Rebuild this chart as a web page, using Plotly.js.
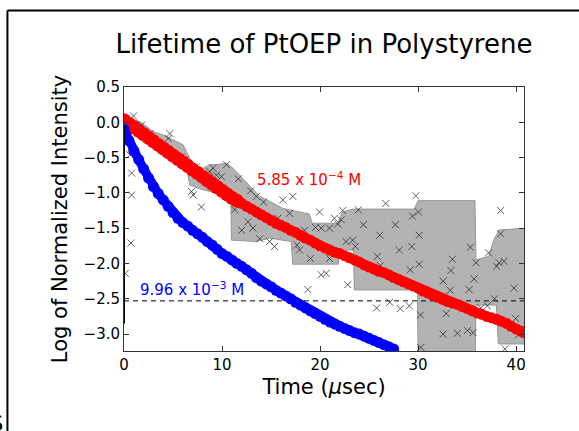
<!DOCTYPE html>
<html>
<head>
<meta charset="utf-8">
<script src="https://cdn.plot.ly/plotly-3.0.1.min.js"></script>
<style>html,body{margin:0;padding:0;background:#fff;}#chart{width:579px;height:431px;}</style>
</head>
<body>
<div id="chart"></div>
<script>
// ---- data ----
const redT = [0,0.5,1,1.5,2,2.5,3,3.5,4,4.5,5,5.5,6,6.5,7,7.5,8,8.5,9,9.5,10,10.5,11,11.5,12,12.5,13,13.5,14,14.5,15,15.5,16,16.5,17,17.5,18,18.5,19,19.5,20,20.5,21,21.5,22,22.5,23,23.5,24,24.5,25,25.5,26,26.5,27,27.5,28,28.5,29,29.5,30,30.5,31,31.5,32,32.5,33,33.5,34,34.5,35,35.5,36,36.5,37,37.5,38,38.5,39,39.5,40,40.5,41];
const redY = [0.03,-0.02,-0.07,-0.12,-0.17,-0.22,-0.27,-0.32,-0.37,-0.42,-0.47,-0.52,-0.57,-0.62,-0.67,-0.72,-0.77,-0.82,-0.87,-0.92,-0.97,-1.02,-1.07,-1.11,-1.15,-1.19,-1.23,-1.27,-1.31,-1.35,-1.39,-1.43,-1.46,-1.49,-1.53,-1.56,-1.60,-1.64,-1.67,-1.71,-1.75,-1.78,-1.81,-1.84,-1.86,-1.89,-1.92,-1.95,-1.98,-2.02,-2.05,-2.08,-2.11,-2.13,-2.16,-2.20,-2.23,-2.26,-2.29,-2.32,-2.35,-2.39,-2.42,-2.45,-2.48,-2.51,-2.54,-2.56,-2.58,-2.61,-2.64,-2.67,-2.70,-2.72,-2.75,-2.77,-2.79,-2.82,-2.85,-2.89,-2.93,-2.96,-2.99];

const blueT = [0,0.5,1,1.5,2,2.5,3,3.5,4,4.5,5,5.5,6,6.5,7,7.5,8,8.5,9,9.5,10,10.5,11,11.5,12,12.5,13,13.5,14,14.5,15,15.5,16,16.5,17,17.5,18,18.5,19,19.5,20,20.5,21,21.5,22,22.5,23,23.5,24,24.5,25,25.5,26,26.5,27,27.5];
const blueY = [-0.10,-0.26,-0.40,-0.53,-0.66,-0.79,-0.91,-1.01,-1.10,-1.19,-1.28,-1.36,-1.42,-1.47,-1.53,-1.58,-1.63,-1.69,-1.74,-1.80,-1.86,-1.90,-1.95,-2.00,-2.04,-2.09,-2.14,-2.20,-2.25,-2.29,-2.33,-2.38,-2.42,-2.46,-2.50,-2.55,-2.59,-2.63,-2.67,-2.71,-2.75,-2.79,-2.83,-2.86,-2.89,-2.92,-2.95,-2.98,-3.00,-3.03,-3.06,-3.09,-3.12,-3.15,-3.18,-3.21];

const crossT = [0.97,0.61,0.78,0.78,0.71,0.13,2.64,1.8,4.68,4.51,5.87,6.21,6.54,7.40,6.89,7.05,7.90,8.75,9.08,9.43,9.94,10.45,11.29,11.65,12.92,13.5,14.24,16.2,17.22,16.89,12.65,12.0,13.15,13.84,14.85,15.36,15.7,18.41,17.65,17.9,19.02,19.53,20.11,20.96,21.8,21.46,22.15,22.31,19.94,23.9,20.96,20.11,20.62,18.75,22.82,22.65,23.33,23.6,29.78,26.7,30.04,29.43,24.41,27.67,26.09,30.11,28.08,29.35,25.84,26.14,29.2,30.11,33.5,33.34,32.55,33.27,35.2,35.7,35.33,35.9,38.42,38.42,37.18,38.0,38.25,38.76,39.78,37.79,36.39,37.06,25.77,27.11,28.18,29.1,30.24,32.86,32.55,34.0,35.02,35.6,39.95,40.23,30.28,38.86];
const crossY = [0.09,-0.46,-0.72,-1.03,-1.71,-2.14,-0.16,-0.04,-0.16,-0.23,-0.49,-0.53,-0.58,-0.63,-0.98,-1.03,-1.20,-0.70,-0.65,-0.75,-0.77,-0.60,-1.24,-0.80,-0.97,-1.05,-1.13,-1.10,-1.05,-1.29,-1.41,-1.53,-1.50,-1.65,-1.69,-1.76,-1.36,-1.53,-1.74,-1.81,-1.93,-1.49,-1.50,-1.50,-1.44,-1.36,-1.38,-1.25,-1.27,-1.24,-1.93,-2.16,-2.14,-2.37,-2.30,-1.69,-1.67,-1.76,-1.04,-1.15,-1.27,-1.33,-1.45,-1.45,-1.60,-1.60,-1.81,-1.76,-1.90,-2.03,-2.09,-2.01,-1.94,-2.10,-2.25,-2.38,-2.37,-2.22,-1.77,-1.99,-1.25,-1.58,-1.85,-2.04,-1.99,-1.97,-2.35,-2.50,-2.63,-2.60,-2.63,-2.55,-2.64,-2.60,-2.73,-2.71,-3.00,-2.99,-2.95,-2.98,-2.78,-3.01,-3.19,-3.21];

const bandUpperT = [0,0.95,1.63,2.98,4.34,5.36,6.03,6.38,7.05,8.07,8.75,9.43,10.45,11.12,11.8,12.82,13.84,14.85,16.2,17.9,18.9,19.2,21.8,22.3,23.3,29.6,30.0,35.8,35.9,37.2,37.7,38.25,41];
const bandUpperY = [0.05,0.04,0.01,-0.13,-0.20,-0.27,-0.32,-0.42,-0.60,-0.65,-0.60,-0.60,-0.58,-0.65,-0.75,-0.91,-1.05,-1.12,-1.22,-1.27,-1.30,-1.43,-1.43,-1.27,-1.23,-1.23,-1.11,-1.11,-1.95,-1.90,-1.67,-1.525,-1.50];
const bandLowerT = [0,1.63,3.66,5.49,6.31,6.71,7.73,9.26,10.9,10.96,13.5,14.85,17.06,17.2,21.87,21.97,23.4,23.5,29.94,30.0,35.8,35.9,37.98,38.18,41];
const bandLowerY = [-0.07,-0.15,-0.29,-0.42,-0.60,-0.89,-0.94,-1.00,-1.04,-1.67,-1.69,-1.64,-1.69,-2.01,-2.01,-1.81,-1.81,-2.375,-2.375,-3.6,-3.6,-2.59,-2.59,-3.14,-3.14];

const edgeT = [0, 0];
const edgeY = [-0.05, -2.85];
const threshold = -2.53;

const xRange = [0, 40.8];
const yRange = [-3.24, 0.5];
const xTicks = [0, 10, 20, 30, 40];
const yTicks = [0.5, 0.0, -0.5, -1.0, -1.5, -2.0, -2.5, -3.0];

const titleText = 'Lifetime of PtOEP in Polystyrene';
const xTitle = 'Time (<i>μ</i>sec)';
const yTitle = 'Log of Normalized Intensity';
const redLabel = '5.85 x 10<sup>−4</sup> M';
const blueLabel = '9.96 x 10<sup>−3</sup> M';

// ---- build traces ----
const polyX = bandUpperT.concat(bandLowerT.slice().reverse());
const polyY = bandUpperY.concat(bandLowerY.slice().reverse());

const traces = [
  {x: polyX, y: polyY, type: 'scatter', mode: 'lines', fill: 'toself',
   fillcolor: 'rgb(179,179,179)', line: {color: 'rgb(150,150,150)', width: 1}, hoverinfo: 'skip'},
  {x: xRange, y: [threshold, threshold], type: 'scatter', mode: 'lines',
   line: {color: '#000', width: 1, dash: '5px,4px'}, hoverinfo: 'skip'},
  {x: crossT, y: crossY, type: 'scatter', mode: 'markers',
   marker: {symbol: 'x-thin-open', size: 7, color: 'rgba(40,40,40,0.75)', line: {width: 1, color: 'rgba(40,40,40,0.75)'}}},
  {x: redT, y: redY, type: 'scatter', mode: 'lines+markers',
   line: {color: '#ff0000', width: 9},
   marker: {color: '#ff0000', opacity: 1, size: redT.map(t => t < 12 ? 14 : 11), line: {width: 0}}},
  {x: blueT, y: blueY, type: 'scatter', mode: 'lines+markers',
   line: {color: '#0000ff', width: 9}, marker: {color: '#0000ff', opacity: 1, size: 11, line: {width: 0}}},
  {x: edgeT, y: edgeY, type: 'scatter', mode: 'lines', line: {color: '#000', width: 2}, cliponaxis: false}
];

const axisCommon = {
  ticks: 'inside', ticklen: 5, tickwidth: 1, tickcolor: '#333',
  showline: true, linecolor: '#333', linewidth: 1, mirror: 'ticks',
  showgrid: false, zeroline: false,
  tickfont: {family: 'DejaVu Sans', size: 15, color: '#000'}
};

const layout = {
  width: 579, height: 431,
  margin: {l: 124, r: 55, t: 87, b: 80, pad: 0},
  paper_bgcolor: '#fff', plot_bgcolor: '#fff',
  showlegend: false,
  font: {family: 'DejaVu Sans', color: '#000'},
  title: {text: titleText, font: {family: 'DejaVu Sans', size: 26, color: '#000'},
          x: 0.5, xref: 'paper', xanchor: 'center', y: 0.898, yref: 'container', yanchor: 'middle'},
  xaxis: Object.assign({}, axisCommon, {range: xRange, tickvals: xTicks, ticktext: xTicks.map(String),
          title: {text: xTitle, font: {family: 'DejaVu Sans', size: 21, color: '#000'}, standoff: 6}}),
  yaxis: Object.assign({}, axisCommon, {range: yRange, tickvals: yTicks, ticktext: yTicks.map(v => v.toFixed(1).replace('-', '\u2212')),
          title: {text: yTitle, font: {family: 'DejaVu Sans', size: 21, color: '#000'}, standoff: 10}}),
  annotations: [
    {x: 18.9, y: -0.80, xref: 'x', yref: 'y', text: redLabel, showarrow: false,
     font: {family: 'DejaVu Sans', size: 15, color: '#ff0000'}, xanchor: 'center', yanchor: 'middle'},
    {x: 6.9, y: -2.36, xref: 'x', yref: 'y', text: blueLabel, showarrow: false,
     font: {family: 'DejaVu Sans', size: 15, color: '#0000ff'}, xanchor: 'center', yanchor: 'middle'},
    {x: -0.297, y: -0.276, xref: 'paper', yref: 'paper', text: 'S', showarrow: false,
     font: {family: 'DejaVu Sans', size: 21, color: '#000'}, xanchor: 'right', yanchor: 'middle'}
  ],
  shapes: [
    {type: 'line', xref: 'paper', yref: 'paper', x0: -0.2914, x1: 1.2, y0: 1.2898, y1: 1.2898, line: {color: '#000', width: 2}},
    {type: 'line', xref: 'paper', yref: 'paper', x0: -0.2914, x1: -0.2914, y0: 1.2898, y1: -0.35, line: {color: '#000', width: 2}}
  ]
};

Plotly.newPlot('chart', traces, layout, {staticPlot: true, displayModeBar: false});
</script>
</body>
</html>
